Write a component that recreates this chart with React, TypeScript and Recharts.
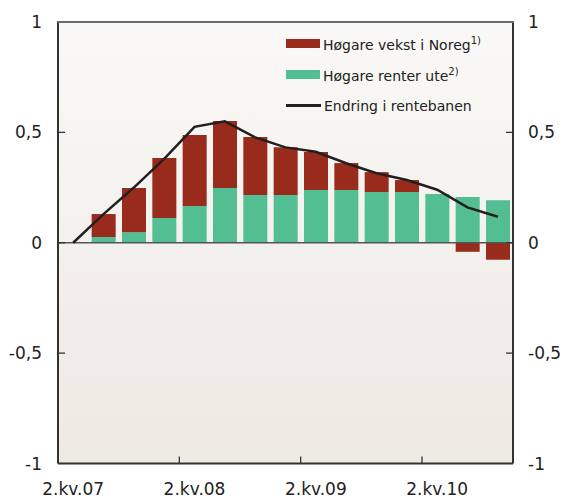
import React from "react";
import {
  ComposedChart,
  Bar,
  Line,
  XAxis,
  YAxis,
  CartesianGrid,
  ReferenceLine,
} from "recharts";

const quarters = [
  "2.kv.07", "3.kv.07", "4.kv.07", "1.kv.08", "2.kv.08", "3.kv.08", "4.kv.08",
  "1.kv.09", "2.kv.09", "3.kv.09", "4.kv.09", "1.kv.10", "2.kv.10", "3.kv.10", "4.kv.10",
];
const vekstNoreg = [0, 0.104, 0.2, 0.272, 0.322, 0.303, 0.263, 0.217, 0.172, 0.122, 0.09, 0.054, 0, -0.041, -0.077];
const renterUte = [0, 0.026, 0.048, 0.112, 0.166, 0.248, 0.216, 0.216, 0.239, 0.239, 0.23, 0.23, 0.221, 0.207, 0.193];
const rentebane = [0, 0.13, 0.25, 0.38, 0.525, 0.55, 0.477, 0.432, 0.412, 0.36, 0.315, 0.284, 0.24, 0.16, 0.118];
const yTicks = [-1, -0.5, 0, 0.5, 1];

const data = quarters.map((q, i) => ({
  q,
  noreg: vekstNoreg[i],
  ute: renterUte[i],
  bane: rentebane[i],
}));

const RED = "#982b1c";
const GREEN = "#52be91";
const FONT = "'DejaVu Sans', sans-serif";

const fmt = (v: number) => String(v).replace(".", ",");

const LeftTick = (props: any) => {
  const { y, payload } = props;
  const v = payload.value;
  return (
    <g>
      <text x={42} y={y} dy="0.36em" textAnchor="end" fontSize={17} fontFamily={FONT} fill="#222">
        {fmt(v)}
      </text>
      {Math.abs(v) < 1 && <line x1={58} x2={65} y1={y} y2={y} stroke="#333" strokeWidth={1.3} />}
    </g>
  );
};

const RightTick = (props: any) => {
  const { y, payload } = props;
  const v = payload.value;
  return (
    <g>
      <text x={528} y={y} dy="0.36em" textAnchor="start" fontSize={17} fontFamily={FONT} fill="#222">
        {fmt(v)}
      </text>
      {Math.abs(v) < 1 && <line x1={506} x2={513} y1={y} y2={y} stroke="#333" strokeWidth={1.3} />}
    </g>
  );
};

const BottomTick = (props: any) => {
  const { x, payload, index } = props;
  const label: string = payload.value;
  if (!label.startsWith("2.kv")) return <g />;
  const half = payload.offset || 15.18;
  return (
    <g>
      <text x={x} y={489} dy="0.36em" textAnchor="middle" fontSize={17} fontFamily={FONT} fill="#222">
        {label}
      </text>
      {index > 0 && <line x1={x - half} x2={x - half} y1={463.5} y2={456.5} stroke="#333" strokeWidth={1.3} />}
    </g>
  );
};

const LegendBox = () => {
  const row: React.CSSProperties = {
    display: "flex",
    alignItems: "center",
    height: 31,
    fontFamily: FONT,
    fontSize: 14,
    color: "#222",
    whiteSpace: "nowrap",
  };
  const sw = (c: string): React.CSSProperties => ({ width: 34, height: 9, background: c, marginRight: 3 });
  return (
    <div style={{ position: "absolute", left: 286, top: 28 }}>
      <div style={row}>
        <div style={sw(RED)} />
        <span>Høgare vekst i Noreg<sup style={{ fontSize: 10 }}>1)</sup></span>
      </div>
      <div style={row}>
        <div style={sw(GREEN)} />
        <span>Høgare renter ute<sup style={{ fontSize: 10 }}>2)</sup></span>
      </div>
      <div style={row}>
        <div style={{ width: 35, height: 2.5, background: "#231f20", marginRight: 3 }} />
        <span>Endring i rentebanen</span>
      </div>
    </div>
  );
};

export default function App() {
  return (
    <div style={{ position: "absolute", left: 0, top: 0, width: 563, height: 501, background: "#fff" }}>
      <svg width={0} height={0} style={{ position: "absolute" }}>
        <defs>
          <linearGradient id="bg" x1="0" y1="0" x2="0" y2="1">
            <stop offset="0%" stopColor="#faf9f7" />
            <stop offset="100%" stopColor="#ede9e3" />
          </linearGradient>
        </defs>
      </svg>
      <ComposedChart
        width={563}
        height={501}
        data={data}
        stackOffset="sign"
        barCategoryGap="11%"
        margin={{ top: 22, right: 0, bottom: 0, left: 0 }}
      >
        <CartesianGrid horizontal={false} vertical={false} fill="url(#bg)" />
        <XAxis
          dataKey="q"
          xAxisId="b"
          interval={0}
          height={37.5}
          tickLine={false}
          axisLine={{ stroke: "#333", strokeWidth: 2 }}
          tick={<BottomTick />}
        />
        <XAxis dataKey="q" xAxisId="t" orientation="top" height={0} tick={false} tickLine={false} axisLine={false} />
        <YAxis
          yAxisId="l"
          width={58}
          domain={[-1, 1]}
          ticks={yTicks}
          tickLine={false}
          axisLine={{ stroke: "#333", strokeWidth: 2 }}
          tick={<LeftTick />}
        />
        <YAxis
          yAxisId="r"
          orientation="right"
          width={50}
          domain={[-1, 1]}
          ticks={yTicks}
          tickLine={false}
          axisLine={{ stroke: "#333", strokeWidth: 2 }}
          tick={<RightTick />}
        />
        <ReferenceLine y={0} xAxisId="b" yAxisId="l" stroke="#555" strokeWidth={1.5} />
        <Bar dataKey="ute" stackId="s" xAxisId="b" yAxisId="l" fill={GREEN} isAnimationActive={false} />
        <Bar dataKey="noreg" stackId="s" xAxisId="b" yAxisId="l" fill={RED} isAnimationActive={false} />
        <Line
          dataKey="bane"
          xAxisId="t"
          yAxisId="r"
          type="linear"
          stroke="#231f20"
          strokeWidth={2.5}
          dot={false}
          isAnimationActive={false}
        />
      </ComposedChart>
      {/* top frame border */}
      <div style={{ position: "absolute", left: 57, top: 21, width: 457, height: 2, background: "#6a6a6a" }} />
      <LegendBox />
    </div>
  );
}
